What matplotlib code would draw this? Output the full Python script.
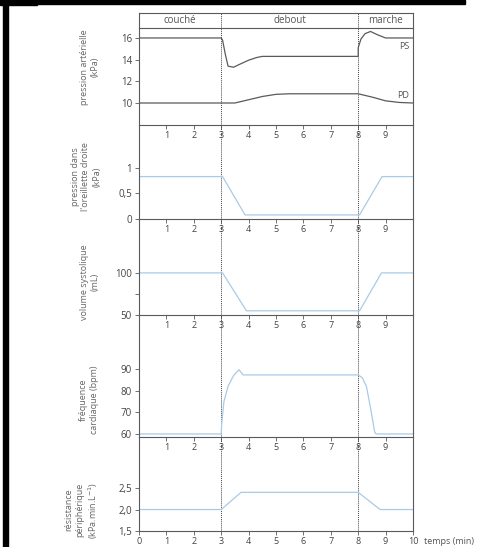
import matplotlib
matplotlib.use("Agg")
import matplotlib.pyplot as plt
from matplotlib.patches import Rectangle

# ---- data ----
phases = ["couché", "debout", "marche"]
phase_mid = [1.5, 5.5, 9.0]
transitions = [3, 8]

ps_t = [0, 3.0, 3.05, 3.15, 3.25, 3.45, 3.7, 4.0, 4.3, 4.5, 8.0, 8.0, 8.1, 8.25, 8.45, 8.7, 9.0, 10]
ps_v = [16, 16, 15.8, 14.5, 13.4, 13.3, 13.6, 13.95, 14.2, 14.3, 14.3, 15.1, 15.9, 16.4, 16.6, 16.3, 16.0, 16]
pd_t = [0, 3.5, 4.0, 4.5, 5.0, 5.5, 8.0, 8.5, 9.0, 9.5, 10]
pd_v = [10, 10, 10.3, 10.6, 10.8, 10.85, 10.85, 10.55, 10.2, 10.05, 10]

pod_t = [0, 3.05, 3.87, 8.05, 8.87, 10]
pod_v = [0.83, 0.83, 0.08, 0.08, 0.83, 0.83]

vs_t = [0, 3.05, 3.92, 8.05, 8.85, 10]
vs_v = [100, 100, 55, 55, 100, 100]

fc_t = [0, 3.0, 3.02, 3.1, 3.25, 3.45, 3.65, 3.8, 8.0, 8.15, 8.3, 8.45, 8.6, 8.65, 10]
fc_v = [60, 60, 65, 75, 82, 87, 89.7, 87.3, 87.3, 86, 82, 72, 61, 60, 60]

rp_t = [0, 3.0, 3.72, 8.0, 8.8, 10]
rp_v = [2.0, 2.0, 2.4, 2.4, 2.0, 2.0]

W, H = 483, 547
grey = "#5a5a5a"
blue = "#a9cbe6"

fig = plt.figure(figsize=(W / 100, H / 100), dpi=100)
plt.rcParams['font.family'] = ['Open Sans', 'DejaVu Sans']

# scan border bits
fig.patches.append(Rectangle((3 / W, 0), 5 / W, 1, transform=fig.transFigure,
                             color="black", zorder=10))
fig.patches.append(Rectangle((0, 1 - 3.5 / H), 465 / W, 3.5 / H, transform=fig.transFigure,
                             color="black", zorder=10))
fig.patches.append(Rectangle((0, 1 - 4.5 / H), 37 / W, 4.5 / H, transform=fig.transFigure,
                             color="black", zorder=10))

x0, x1 = 139, 413


def make_ax(top, bottom):
    ax = fig.add_axes([x0 / W, 1 - bottom / H, (x1 - x0) / W, (bottom - top) / H])
    ax.set_facecolor("none")
    return ax


def style(ax, ylim, yticks, ylabels, last=False):
    ax.set_xlim(0, 10)
    ax.set_ylim(*ylim)
    ax.set_yticks(yticks)
    ax.set_yticklabels(ylabels)
    if last:
        ax.set_xticks(range(0, 11))
    else:
        ax.set_xticks(range(1, 10))
    ax.spines["top"].set_visible(False)
    for s in ["left", "right", "bottom"]:
        ax.spines[s].set_color(grey)
        ax.spines[s].set_linewidth(0.8)
    ax.tick_params(axis="both", direction="out", length=3, width=0.6,
                   colors=grey, labelsize=7, pad=2, labelcolor="#444444")
    ax.tick_params(axis="x", pad=1, labelsize=6.5)
    for t in transitions:
        ax.axvline(t, color="#444444", lw=0.7, ls=(0, (1, 1)), zorder=1)


def ylab(x, y, txt):
    fig.text(x / W, 1 - y / H, txt, rotation=90, ha="center", va="center",
             fontsize=6.5, color="#666666", linespacing=1.25)


# header
hax = make_ax(13, 28)
hax.set_xlim(0, 10)
hax.set_ylim(0, 1)
hax.set_xticks([])
hax.set_yticks([])
for s in hax.spines.values():
    s.set_color(grey)
    s.set_linewidth(0.8)
for t in transitions:
    hax.axvline(t, color="#444444", lw=0.7, ls=(0, (1, 1)))
for name, m in zip(phases, phase_mid):
    hax.text(m, 0.48, name, ha="center", va="center", fontsize=7, color="#555555")

# panel 1 : pression artérielle
ax1 = make_ax(28, 125)
ax1.plot(ps_t, ps_v, color=grey, lw=0.9)
ax1.plot(pd_t, pd_v, color=grey, lw=0.9)
style(ax1, (7.97, 16.92), [10, 12, 14, 16], ["10", "12", "14", "16"])
ax1.text(9.85, 15.25, "PS", ha="right", va="center", fontsize=6.5, color="#555555")
ax1.text(9.85, 10.65, "PD", ha="right", va="center", fontsize=6.5, color="#555555")
ylab(90, 67, "pression artérielle\n(kPa)")

# panel 2 : oreillette droite
ax2 = make_ax(125, 219)
ax2.plot(pod_t, pod_v, color=blue, lw=0.9)
style(ax2, (0, 1.84), [0, 0.5, 1], ["0", "0,5", "1"])
ylab(86, 177, "pression dans\nl'oreillette droite\n(kPa)")

# panel 3 : volume systolique
ax3 = make_ax(219, 315)
ax3.plot(vs_t, vs_v, color=blue, lw=0.9)
style(ax3, (50, 164), [50, 75, 100], ["50", "", "100"])
ylab(90, 282, "volume systolique\n(mL)")

# panel 4 : fréquence cardiaque
ax4 = make_ax(315, 437)
ax4.plot(fc_t, fc_v, color=blue, lw=0.9)
style(ax4, (58.6, 115), [60, 70, 80, 90], ["60", "70", "80", "90"])
ylab(89, 400, "fréquence\ncardiaque (bpm)")

# panel 5 : résistance périphérique
ax5 = make_ax(437, 531)
ax5.plot(rp_t, rp_v, color=blue, lw=0.9)
style(ax5, (1.5, 3.69), [1.5, 2.0, 2.5], ["1,5", "2,0", "2,5"], last=True)
ylab(82, 510, "résistance\npériphérique\n(kPa.min.L$^{-1}$)")
fig.text(424 / W, 1 - 541 / H, "temps (min)", ha="left", va="center",
         fontsize=6.5, color="#555555")

fig.savefig("out.png", dpi=100)
